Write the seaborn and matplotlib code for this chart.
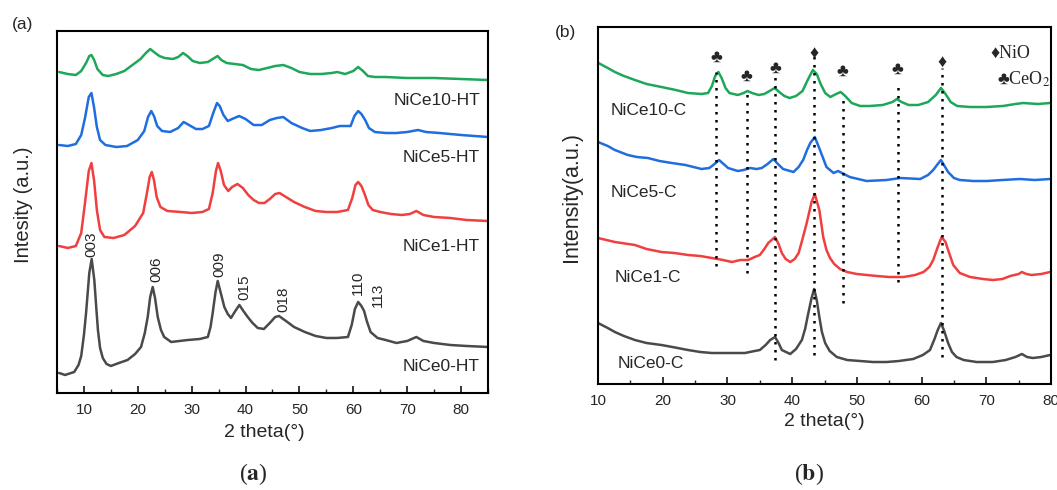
import numpy as np
import pandas as pd
import matplotlib
matplotlib.use("Agg")
import matplotlib.pyplot as plt
from matplotlib.ticker import MultipleLocator
import seaborn as sns

# ---- panel (a): hydrotalcite precursors, 2theta (deg) / intensity (a.u.) ----
a_ce10_x = [5.4, 7.0, 8.5, 9.5, 10.4, 11.0, 11.4, 11.9, 12.5, 13.5, 14.5, 16.0, 17.5, 19.0, 20.5,
            21.5, 22.3, 23.0, 24.0, 25.0, 26.5, 27.5, 28.4, 29.2, 30.2, 31.5, 33.0, 34.2, 34.8,
            35.5, 36.5, 38.0, 39.5, 41.0, 42.5, 44.0, 45.5, 47.0, 48.5, 50.0, 52.0, 54.0, 56.0,
            57.0, 58.5, 60.0, 60.9, 61.8, 62.7, 64.0, 66.0, 70.0, 75.0, 80.0, 85.0]
a_ce10_y = [321, 319, 318, 322, 330, 337, 338, 333, 324, 318, 317, 319, 322, 328, 334,
            340, 344, 341, 337, 335, 334, 336, 340, 337, 332, 330, 331, 335, 337,
            333, 330, 329, 328, 324, 323, 325, 327, 328, 325, 321, 319, 319, 320,
            321, 319, 322, 326, 322, 317, 316, 316, 315, 315, 314, 313]

a_ce5_x = [5.4, 7.0, 8.5, 9.5, 10.2, 10.9, 11.4, 11.9, 12.4, 13.0, 14.0, 16.0, 18.0, 20.0, 21.2,
           21.9, 22.5, 23.0, 23.6, 24.5, 26.0, 27.5, 28.5, 29.5, 30.8, 32.0, 33.2, 34.0, 34.7,
           35.2, 35.9, 36.7, 37.5, 38.8, 40.0, 41.5, 43.0, 44.5, 45.8, 47.0, 48.5, 50.5, 52.0,
           54.0, 56.0, 57.5, 59.5, 60.2, 60.9, 61.5, 62.2, 62.9, 64.0, 66.0, 68.0, 70.0, 72.0,
           73.5, 76.0, 80.0, 85.0]
a_ce5_y = [248, 247, 249, 258, 275, 296, 300, 285, 266, 253, 248, 246, 247, 253, 262,
           276, 282, 277, 267, 262, 261, 265, 271, 268, 264, 264, 267, 280, 290,
           287, 278, 272, 274, 277, 274, 268, 268, 273, 275, 276, 270, 265, 262,
           263, 265, 267, 267, 277, 282, 279, 273, 265, 261, 260, 260, 261, 263,
           261, 260, 258, 256]

a_ce1_x = [5.4, 7.0, 8.5, 9.5, 10.2, 10.9, 11.4, 11.9, 12.4, 13.0, 13.8, 15.5, 17.5, 19.5, 21.0,
           21.7, 22.2, 22.6, 23.0, 23.5, 24.2, 25.5, 28.0, 30.0, 32.0, 33.2, 33.9, 34.5, 34.9,
           35.4, 36.0, 36.8, 37.5, 38.5, 39.5, 40.5, 41.5, 42.5, 43.5, 44.5, 45.5, 46.3, 47.5,
           49.0, 51.0, 53.0, 55.0, 57.0, 59.0, 59.8, 60.4, 60.9, 61.5, 62.1, 62.8, 63.6, 65.0,
           67.0, 69.0, 70.5, 71.7, 73.0, 75.0, 78.0, 81.0, 85.0]
a_ce1_y = [147, 145, 147, 160, 190, 222, 230, 212, 183, 163, 156, 155, 158, 167, 180,
           200, 216, 221, 213, 196, 186, 182, 181, 180, 181, 184, 200, 222, 230,
           222, 208, 202, 206, 209, 205, 198, 193, 190, 190, 194, 199, 200, 196,
           191, 186, 182, 181, 181, 183, 195, 208, 211, 207, 199, 188, 183, 181,
           179, 178, 179, 182, 178, 176, 175, 173, 172]

a_ce0_x = [5.4, 6.5, 8.2, 9.0, 9.5, 10.0, 10.4, 11.0, 11.44, 11.93, 12.3, 12.6, 13.0, 13.5, 14.2,
           15.0, 16.5, 18.1, 19.5, 20.6, 21.3, 21.84, 22.3, 22.77, 23.2, 23.7, 24.3, 24.9, 26.2,
           29.3, 31.5, 33.0, 33.5, 33.9, 34.4, 34.83, 35.4, 36.06, 36.7, 37.3, 38.1, 38.85, 39.6,
           40.4, 41.3, 42.26, 43.4, 44.5, 45.5, 46.2, 47.5, 49.0, 51.0, 53.0, 55.0, 57.0, 59.0,
           59.7, 60.3, 60.9, 61.5, 62.0, 62.5, 63.2, 64.5, 66.0, 68.0, 70.0, 71.7, 73.0, 75.0,
           78.0, 81.0, 85.0]
a_ce0_y = [20, 18, 21, 28, 37, 58, 80, 120, 134, 113, 85, 63, 45, 35, 29,
           27, 30, 33, 39, 46, 60, 76, 96, 106, 95, 76, 63, 56, 51,
           53, 54, 56, 66, 80, 100, 112, 100, 86, 79, 75, 82, 88, 82,
           76, 70, 65, 64, 70, 76, 77, 72, 66, 61, 57, 55, 55, 56,
           68, 84, 91, 87, 82, 72, 61, 55, 53, 50, 52, 56, 52, 50,
           48, 47, 46]

a_names = ["NiCe10-HT", "NiCe5-HT", "NiCe1-HT", "NiCe0-HT"]
hkl_labels = ["003", "006", "009", "015", "018", "110", "113"]
hkl_x = [11.3, 23.4, 35.1, 39.7, 47.0, 60.9, 64.6]
hkl_y = [136, 111, 116, 93, 81, 98, 86]

# ---- panel (b): calcined oxides ----
b_ce10_x = [10.05, 11.5, 12.6, 14.0, 15.7, 17.5, 19.8, 22.0, 23.9, 26.0, 27.0, 27.6, 28.1, 28.6,
            29.1, 29.7, 30.3, 31.6, 32.5, 33.1, 33.8, 34.8, 35.7, 36.5, 37.3, 38.0, 38.8, 39.6,
            40.6, 41.6, 42.4, 43.2, 43.8, 44.4, 45.1, 45.9, 46.8, 47.5, 48.2, 49.2, 50.5, 52.0,
            54.0, 55.5, 56.2, 56.9, 58.0, 59.5, 61.0, 62.2, 63.0, 63.7, 64.5, 65.5, 67.5, 70.0,
            72.6, 74.5, 75.7, 78.0, 79.85]
b_ce10_y = [321, 316, 312, 308, 304, 300, 297, 294, 291, 290, 291, 298, 308, 312,
            306, 296, 291, 289, 291, 293, 291, 289, 290, 293, 296, 292, 288, 286,
            288, 293, 304, 314, 310, 300, 291, 287, 290, 292, 288, 281, 278, 278,
            279, 282, 285, 282, 279, 279, 282, 289, 296, 290, 282, 278, 277, 277,
            278, 280, 281, 280, 281]

b_ce5_x = [10.0, 11.5, 12.6, 14.6, 16.0, 17.7, 19.5, 21.4, 23.5, 26.0, 27.2, 28.0, 28.7, 29.4,
           30.1, 31.6, 32.5, 33.5, 34.5, 35.3, 36.2, 37.1, 37.8, 38.6, 40.2, 41.0, 41.7, 42.3,
           42.8, 43.5, 44.3, 45.3, 46.4, 47.1, 48.9, 51.5, 54.6, 56.7, 59.8, 61.0, 61.8, 62.5,
           63.0, 64.1, 65.0, 65.9, 68.0, 70.1, 72.5, 75.2, 77.5, 79.85]
b_ce5_y = [242, 238, 234, 229, 227, 226, 223, 221, 219, 215, 216, 220, 224, 220,
           216, 213, 214, 216, 215, 216, 220, 225, 220, 215, 212, 217, 224, 234,
           241, 247, 234, 217, 211, 213, 207, 203, 204, 206, 205, 209, 214, 220,
           224, 212, 206, 204, 203, 203, 204, 205, 204, 205]

b_ce1_x = [10.0, 12.6, 15.7, 17.5, 19.8, 21.8, 23.9, 25.8, 27.6, 29.3, 30.7, 32.0, 33.2, 34.2,
           35.0, 35.7, 36.3, 37.35, 37.9, 38.4, 39.0, 39.7, 40.4, 41.0, 41.6, 42.25, 43.0, 43.5,
           44.2, 44.8, 45.3, 45.85, 46.5, 47.4, 48.5, 50.0, 53.1, 55.0, 57.2, 59.0, 60.3, 61.2,
           61.8, 62.5, 63.1, 63.7, 64.1, 64.9, 65.9, 67.5, 69.5, 71.0, 72.5, 73.7, 75.0, 75.5,
           76.2, 77.0, 78.5, 79.85]
b_ce1_y = [146, 142, 139, 135, 132, 131, 129, 128, 126, 124, 122, 124, 124, 127,
           129, 135, 141, 147, 140, 131, 125, 122, 125, 131, 145, 161, 182, 190,
           174, 147, 134, 126, 120, 115, 112, 110, 108, 107, 107, 109, 112, 117,
           124, 137, 147, 142, 134, 119, 111, 107, 105, 104, 105, 108, 110, 112,
           110, 109, 110, 112]

b_ce0_x = [10.0, 11.5, 12.6, 14.0, 15.7, 17.5, 19.8, 21.5, 23.9, 25.8, 27.6, 30.0, 32.7, 34.2,
           35.0, 35.9, 36.6, 37.35, 37.9, 38.4, 39.7, 40.6, 41.5, 42.0, 42.5, 43.0, 43.4, 43.8,
           44.2, 44.6, 45.1, 45.8, 46.9, 48.5, 50.5, 52.5, 54.6, 56.5, 58.7, 60.2, 61.3, 62.0,
           62.5, 63.0, 63.5, 64.1, 64.7, 65.4, 66.5, 68.5, 71.0, 73.0, 74.5, 75.5, 76.3, 77.2,
           78.5, 79.85]
b_ce0_y = [61, 56, 52, 48, 44, 41, 39, 37, 34, 32, 31, 31, 31, 33,
           34, 39, 44, 47, 41, 34, 30, 35, 44, 55, 71, 86, 95, 84,
           67, 52, 41, 33, 27, 24, 23, 22, 22, 23, 25, 29, 34, 45,
           54, 61, 53, 41, 32, 27, 24, 22, 22, 24, 27, 30, 27, 26,
           27, 29]

b_names = ["NiCe10-C", "NiCe5-C", "NiCe1-C", "NiCe0-C"]
# reference lines: position, top, bottom, phase marker
ref_x = [28.3, 33.0, 37.4, 43.4, 47.8, 56.3, 63.1]
ref_top = [312, 295, 312, 329, 289, 301, 316]
ref_bottom = [118, 111, 24, 29, 81, 102, 27]
ref_sym = ["\u2663", "\u2663", "\u2663", "\u2666", "\u2663", "\u2663", "\u2666"]
ref_sym_y = [327, 308, 316, 331, 313, 315, 322]

colors = ["#1ea75a", "#1f6ee0", "#f03f3f", "#4a4a4a"]

a_df = pd.concat([
    pd.DataFrame({"x": a_ce10_x, "y": a_ce10_y, "s": a_names[0]}),
    pd.DataFrame({"x": a_ce5_x, "y": a_ce5_y, "s": a_names[1]}),
    pd.DataFrame({"x": a_ce1_x, "y": a_ce1_y, "s": a_names[2]}),
    pd.DataFrame({"x": a_ce0_x, "y": a_ce0_y, "s": a_names[3]}),
])
b_df = pd.concat([
    pd.DataFrame({"x": b_ce10_x, "y": b_ce10_y, "s": b_names[0]}),
    pd.DataFrame({"x": b_ce5_x, "y": b_ce5_y, "s": b_names[1]}),
    pd.DataFrame({"x": b_ce1_x, "y": b_ce1_y, "s": b_names[2]}),
    pd.DataFrame({"x": b_ce0_x, "y": b_ce0_y, "s": b_names[3]}),
])

sns.set_style("white")
plt.rcParams["font.family"] = ["Liberation Sans", "DejaVu Sans"]
plt.rcParams["mathtext.fontset"] = "stix"

fig = plt.figure(figsize=(10.57, 4.90), dpi=100)
ax_a = fig.add_axes([0.0539, 0.198, 0.4078, 0.7387])
ax_b = fig.add_axes([0.5658, 0.2163, 0.4285, 0.7286])

sns.lineplot(data=a_df, x="x", y="y", hue="s", palette=dict(zip(a_names, colors)),
             estimator=None, sort=False, linewidth=1.8, legend=False, ax=ax_a)
sns.lineplot(data=b_df, x="x", y="y", hue="s", palette=dict(zip(b_names, colors)),
             estimator=None, sort=False, linewidth=1.8, legend=False, ax=ax_b)

for ax, xlim, ylim in [(ax_a, (5, 85), (0, 362)), (ax_b, (10, 80), (0, 357))]:
    ax.set_xlim(*xlim)
    ax.set_ylim(*ylim)
    ax.set_yticks([])
    ax.xaxis.set_major_locator(MultipleLocator(10))
    ax.xaxis.set_minor_locator(MultipleLocator(5))
    ax.tick_params(axis="x", which="major", direction="in", length=5, width=1.3,
                   labelsize=11, pad=7, bottom=True, top=False)
    ax.tick_params(axis="x", which="minor", direction="in", length=3, width=1.0,
                   bottom=True, top=False)
    for sp in ax.spines.values():
        sp.set_linewidth(1.5)
        sp.set_color("black")

ax_a.set_xlabel("2 theta(\u00b0)", fontsize=14, labelpad=12)
ax_b.set_xlabel("2 theta(\u00b0)", fontsize=14, labelpad=4)
ax_a.xaxis.set_label_coords(0.48, -0.085)
ax_a.set_ylabel("Intesity (a.u.)", fontsize=14.5)
ax_b.set_ylabel("Intensity(a.u.)", fontsize=15.5)
ax_a.yaxis.set_label_coords(-0.056, 0.52)
ax_b.yaxis.set_label_coords(-0.035, 0.525)

# sample labels
a_lab_y = [293, 236, 146, 26]
for name, yy in zip(a_names, a_lab_y):
    ax_a.text(83.5, yy, name, fontsize=12.5, ha="right", va="center")
b_lab_y = [274, 192, 107, 21]
b_lab_x = [12.0, 12.0, 12.5, 13.0]
for name, xx, yy in zip(b_names, b_lab_x, b_lab_y):
    ax_b.text(xx, yy, name, fontsize=12.5, ha="left", va="center")

# Miller indices
for lab, xx, yy in zip(hkl_labels, hkl_x, hkl_y):
    ax_a.text(xx, yy, lab, fontsize=11, rotation=90, ha="center", va="bottom")

# reference lines and phase markers
serif = ["Liberation Serif", "DejaVu Serif"]
ax_b.vlines(ref_x, ref_bottom, ref_top, colors="black", linestyles=(0, (1, 2.2)), linewidth=1.8)
for xx, yy, s in zip(ref_x, ref_sym_y, ref_sym):
    ax_b.text(xx, yy, s, fontsize=13, ha="center", va="center", family=serif)
ax_b.text(70.7, 331, "\u2666NiO", fontsize=13, ha="left", va="center", family=serif)
ax_b.text(71.6, 305, "\u2663CeO$_2$", fontsize=13, ha="left", va="center", family=serif)

# panel letters
fig.text(23 / 1057, 1 - 25 / 490, "(a)", fontsize=12.5, ha="center", va="center")
fig.text(566 / 1057, 1 - 33 / 490, "(b)", fontsize=12.5, ha="center", va="center")
fig.text(253 / 1057, 1 - 474 / 490, "($\\mathbf{a}$)", fontsize=17, ha="center", va="center",
         family=serif)
fig.text(809 / 1057, 1 - 474 / 490, "($\\mathbf{b}$)", fontsize=17, ha="center", va="center",
         family=serif)

fig.savefig("out.png", dpi=100)
